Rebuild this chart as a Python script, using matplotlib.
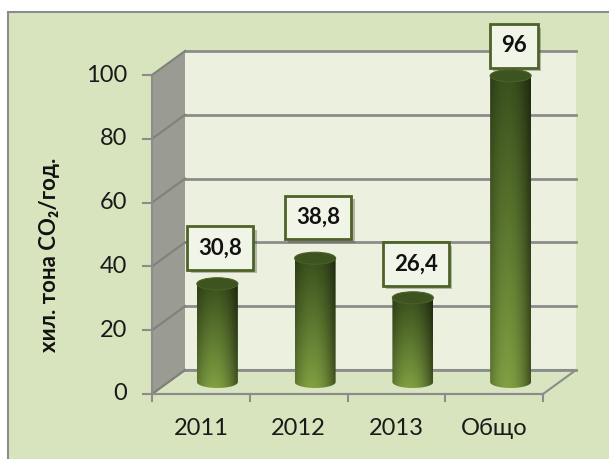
import numpy as np
import matplotlib.pyplot as plt
from matplotlib.patches import Rectangle, Polygon, Ellipse, PathPatch
from matplotlib.path import Path
import matplotlib.patheffects as pe

# Данни
categories = ['2011', '2012', '2013', 'Общо']
values = [30.8, 38.8, 26.4, 96]
value_labels = ['30,8', '38,8', '26,4', '96']
yticks = [0, 20, 40, 60, 80, 100]
ylabel = 'хил. тона CO₂/год.'

plt.rcParams['font.family'] = ['Lato', 'Noto Sans', 'DejaVu Sans']

# Геометрия (пиксели -> данни)
W, H = 609, 459
x0px, cw = 152, 97.75       # ляв преден ъгъл, ширина на категория
y0px, ppu = 394, 3.19       # нула по y, пиксели на единица
dx, dy = 33 / cw, 24 / ppu  # дълбочина на 3D ефекта
bw = 20.5 / cw              # половин ширина на цилиндъра
eh = 6 / ppu                # полу-височина на елипсата
label_dy = [15.0, 16.5, 14.35, 13.1]  # отместване на етикетите над стойността

fig = plt.figure(figsize=(W / 100, H / 100), dpi=100, facecolor='white')
fig.patches.append(Rectangle((8 / W, -0.1), 1.2, (H - 12) / H + 0.1, transform=fig.transFigure,
                             facecolor='#d7e4bd', edgecolor='#8c8c8c', lw=1.5, zorder=-5))
ax = fig.add_axes([0, 0, 1, 1])
ax.set_facecolor('none')
ax.axis('off')

grid_c = '#8c8c8c'
left, right = -0.5, len(categories) - 0.5
ymax = yticks[-1]

# задна стена
ax.add_patch(Polygon([(left + dx, dy), (right + dx, dy), (right + dx, ymax + dy), (left + dx, ymax + dy)],
                     closed=True, facecolor='#ebf1de', edgecolor='none', zorder=1))
# странична стена
ax.add_patch(Polygon([(left, 0), (left + dx, dy), (left + dx, ymax + dy), (left, ymax)],
                     closed=True, facecolor='#9a9c94', edgecolor='none', zorder=1))
# под
ax.add_patch(Polygon([(left, 0), (right, 0), (right + dx, dy), (left + dx, dy)],
                     closed=True, facecolor='#d9e5c0', edgecolor=grid_c, lw=1.5, zorder=1))

for v in yticks:
    ax.plot([left + dx, right + dx], [v + dy, v + dy], color=grid_c, lw=2, zorder=2)
    ax.plot([left, left + dx], [v, v + dy], color='#7f8279', lw=1.5, zorder=2)
    ax.plot([left - 9 / cw, left], [v, v], color=grid_c, lw=1.5, zorder=2)
    ax.text(left - 25 / cw, v, str(v), ha='right', va='center', fontsize=17, color='#1a1a1a')

ax.plot([left, left], [0, ymax], color=grid_c, lw=1.5, zorder=2)
ax.plot([left, right], [0, 0], color=grid_c, lw=1.5, zorder=2)
for i in range(len(categories) + 1):
    ax.plot([left + i, left + i], [0, -7 / ppu], color=grid_c, lw=1.5, zorder=2)

# цилиндри
dark = np.array([0x3a, 0x50, 0x1d]) / 255
light = np.array([0x80, 0xa0, 0x42]) / 255
u = np.linspace(0, 1, 80)
t = np.linspace(0, 1, 120)
shade = 1 - 0.5 * (np.abs(u - 0.42) / 0.58) ** 2
col = light[None, :] * (1 - t[:, None]) + dark[None, :] * t[:, None]
img = np.clip(col[:, None, :] * shade[None, :, None], 0, 1)

for i, (v, lab, ldy) in enumerate(zip(values, value_labels, label_dy)):
    xc = i + dx / 2
    base = dy / 2
    top = base + v
    th = np.linspace(np.pi, 2 * np.pi, 40)
    pts = [(xc - bw, top), (xc - bw, base)]
    pts += [(xc + bw * np.cos(a), base + eh * np.sin(a)) for a in th]
    pts += [(xc + bw, top), (xc - bw, top)]
    clip = PathPatch(Path(pts), transform=ax.transData, facecolor='none', edgecolor='none')
    ax.add_patch(clip)
    im = ax.imshow(img, extent=[xc - bw, xc + bw, base - eh, top], origin='lower',
                   aspect='auto', zorder=3, interpolation='bilinear')
    im.set_clip_path(clip)
    ax.add_patch(Ellipse((xc, top), 2 * bw, 2 * eh, facecolor='#3e5420', edgecolor='#4a6126',
                         lw=0.8, zorder=4))
    txt = ax.text(xc + 0.03, v + ldy, lab, ha='center', va='center', fontsize=16, fontweight='bold',
                  color='#111111', zorder=6,
                  bbox=dict(boxstyle='square,pad=0.5', fc='#f1f5e8', ec='#4f6228', lw=2))
    txt.get_bbox_patch().set_path_effects([pe.SimplePatchShadow(offset=(2.5, -2.5), alpha=0.35),
                                           pe.Normal()])
    ax.text(i, -10.8, categories[i], ha='center', va='center', fontsize=17, color='#1a1a1a')

fig.text(50 / W, 1 - 255 / H, ylabel, rotation=90, ha='center', va='center',
         fontsize=16, fontweight='bold', color='#111111')

ax.set_xlim(left - x0px / cw, left + (W - x0px) / cw)
ax.set_ylim(-(H - y0px) / ppu, y0px / ppu)

fig.savefig('out.png', dpi=100, facecolor='white')
